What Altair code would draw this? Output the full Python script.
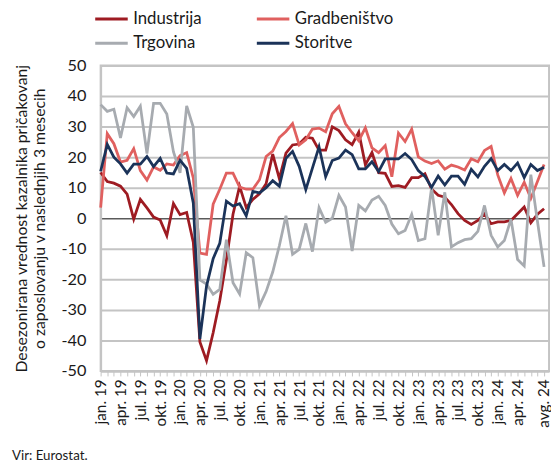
import altair as alt
import pandas as pd

# Monthly series, jan. 2019 .. avg. 2024 (68 months)
industrija = [15, 12, 11.5, 10.5, 7.9, -0.3, 6.2, 3.4, 0.4, -0.6, -5.7, 4.8, 1.2, 1.9, -7.8, -40.5, -46.6,
              -37.5, -27, -13.7, 1.3, 10.5, 3.5, 6.2, 8, 11.3, 21, 13, 21.3, 24, 24.3, 26.5, 26.2,
              22.3, 22.3, 29.9, 28.7, 25.7, 24.1, 28.2, 17.5, 21.5, 14.9, 14.7, 10.4, 10.7, 10.1, 13.3,
              13.3, 14.6, 9.6, 7.5, 6.9, 4.5, 1.5, -0.7, -2, -0.7, 1.4, -1.8, -1.2, -1.2, -0.7, 1.5,
              3.7, -1.5, 1.3, 3.1]
gradbenistvo = [3.5, 27.7, 24.4, 18.4, 19, 22.8, 15.6, 12.5, 16.8, 15.7, 17.8, 17.4, 20.5, 21.5, 13.2, -11.4, -11.8,
                4.6, 9.5, 14.8, 14.8, 10.2, 9.5, 9.5, 12.6, 20.2, 22, 26.4, 28.4, 31, 24, 25.7, 29.2,
                29.5, 28.3, 34.2, 36.6, 30.9, 28, 25.4, 29.6, 23, 21.5, 23.8, 13.6, 27.9, 25.1, 29.2,
                20.1, 18.7, 17.9, 18.8, 16.1, 17.4, 16.8, 15.8, 19.5, 18.5, 22.2, 23.5, 14.2, 8.3, 13,
                7.5, 11.8, 6.5, 12, 17.6]
trgovina = [37.2, 35, 35.7, 26.3, 36.2, 33.3, 36.7, 21.2, 37.6, 37.6, 34.1, 21.8, 14.9, 36.8, 29.8, -20.2, -21.5,
            -24.9, -23.3, -7, -21.1, -24.8, -11.3, -12.9, -28.7, -24, -17.6, -9, 0.8, -11.8, -10.2, -1.7,
            -10.9, 3.5, -1.3, 0, 7.5, 3.7, -10.7, 4.2, 2.4, 6, 7.2, 4.2, -1.9, -5.1, -4, 1.3, -7.3,
            -6.7, 10, -5.6, 8.5, -9.4, -8, -7, -6.7, -4.3, 4.2, -5.6, -9.4, -7.3, -0.3, -13.5, -15.6,
            14.3, -1, -15.9]
storitve = [15.4, 24.2, 20, 17.8, 14.8, 17.7, 17.7, 20.2, 16.9, 19.6, 14.8, 14.5, 19, 16.3, 5, -39.5, -22.2,
            -13.2, -8.2, 5.6, 4, 4.8, 0.8, 8.8, 8.3, 10, 12.3, 10.5, 19.6, 21.9, 17, 9.4, 16.4,
            23.4, 13.6, 18.9, 19.7, 22.3, 20.8, 16.2, 16.2, 18.5, 15.3, 19.4, 19.4, 19.4, 21.2, 19.2,
            15.6, 13.7, 10.1, 13.8, 10.9, 13.8, 13.8, 11.1, 16, 13.5, 17, 19.5, 15.6, 17.6, 15.6,
            18.1, 13.3, 17.6, 15.6, 16.7]

series_names = ["Industrija", "Gradbeništvo", "Trgovina", "Storitve"]
series_colors = ["#9e1b22", "#e0605f", "#a7abb0", "#1b3359"]

month_abbr = ["jan.", "feb.", "mar.", "apr.", "maj", "jun.", "jul.", "avg.", "sep.", "okt.", "nov.", "dec."]
n = len(industrija)
tick_labels = []
for i in range(n):
    lab = f"{month_abbr[i % 12]} {19 + i // 12}"
    if (i % 3 == 0 and i < n - 2) or i == n - 1:
        tick_labels.append(lab)
    else:
        tick_labels.append("")

rows = []
for name, vals in zip(series_names, [industrija, gradbenistvo, trgovina, storitve]):
    for i, v in enumerate(vals):
        rows.append({"i": i, "serija": name, "v": v})
df = pd.DataFrame(rows)

label_expr = "[" + ",".join("'" + t + "'" for t in tick_labels) + "][datum.value]"

FONT = "Lato"
W, H = 455, 310
GRID = "#c4c4c4"

chart = alt.Chart(df).mark_line(strokeWidth=2.8, strokeJoin="miter").encode(
    x=alt.X("i:Q",
            scale=alt.Scale(domain=[0, 67.75], nice=False, zero=False),
            axis=alt.Axis(values=list(range(n)), labelExpr=label_expr, labelAngle=-90,
                          labelAlign="right", labelBaseline="middle", labelFontSize=15.5,
                          labelPadding=3, tickSize=5, tickColor=GRID, tickWidth=1,
                          domainColor=GRID, domainWidth=2, grid=False, title=None,
                          labelColor="#1a1a1a", labelFont=FONT, labelOverlap=False,
                          labelBound=False, labelFlush=False)),
    y=alt.Y("v:Q", scale=alt.Scale(domain=[-50, 50], nice=False),
            axis=alt.Axis(values=list(range(-50, 51, 10)), grid=True,
                          gridColor=alt.condition("datum.value === 0", alt.value("#5a5a5a"), alt.value(GRID)),
                          gridWidth=alt.condition("datum.value === 0", alt.value(1.5), alt.value(2)),
                          gridOpacity=1,
                          domain=True, domainColor=GRID, domainWidth=2,
                          ticks=False, labelFontSize=16.5, labelPadding=15, labelColor="#1a1a1a",
                          labelFont=FONT, labelOverlap=False, labelExpr="'' + datum.value",
                          title=["Desezonirana vrednost kazalnika pričakovanj",
                                 "o zaposlovanju v naslednjih 3 mesecih"],
                          titleFont=FONT, titleFontSize=16, titleFontWeight="normal",
                          titleColor="#1a1a1a", titleLineHeight=18, titleAngle=-90,
                          titleX=-88, titleY=H / 2, titleAlign="center", titleBaseline="top")),
    color=alt.Color("serija:N",
                    scale=alt.Scale(domain=series_names, range=series_colors),
                    sort=series_names,
                    legend=alt.Legend(title=None, orient="none", legendX=-0.5, legendY=-59,
                                      padding=0, columns=2, direction="horizontal",
                                      symbolType="M-1.65,0H1.65", symbolSize=400,
                                      symbolStrokeWidth=3, labelFontSize=17, labelFont=FONT,
                                      labelColor="#1a1a1a", labelOffset=10.5,
                                      columnPadding=50, rowPadding=5)),
    order=alt.Order("i:Q"),
).properties(
    width=W, height=H,
    autosize=alt.AutoSizeParams(type="none"),
    padding={"left": 94, "top": 55, "right": 2, "bottom": 91},
    title=alt.TitleParams("Vir: Eurostat.", orient="bottom", anchor="start", font=FONT,
                          fontSize=13.5, fontWeight="normal", color="#1a1a1a", offset=22, dx=-2),
).configure(background="white").configure_view(stroke=GRID, strokeWidth=2)

chart.save("out.html", embed_options={"renderer": "svg", "actions": False})
